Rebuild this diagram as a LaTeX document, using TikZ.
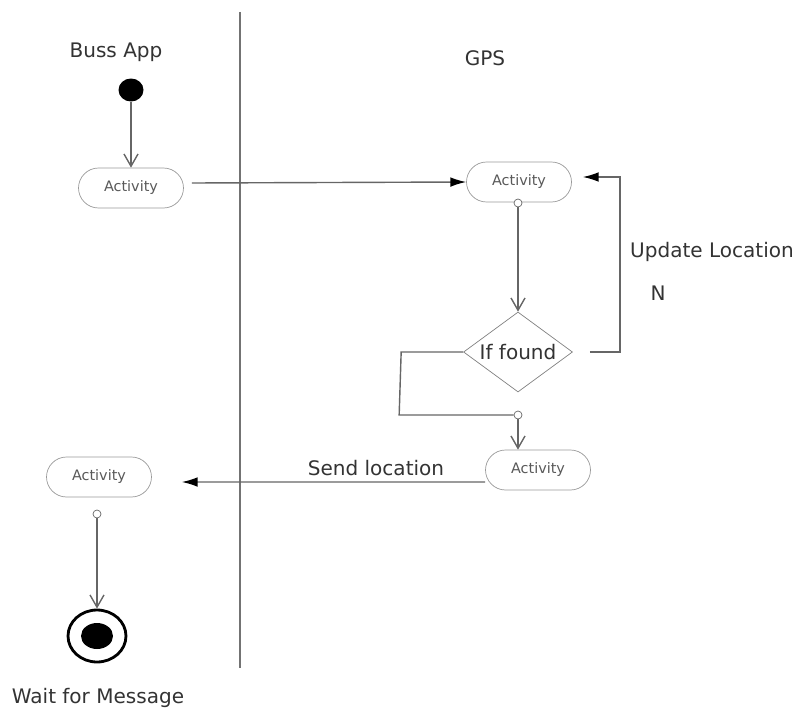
\documentclass[tikz,border=0pt]{standalone}
\usepackage{fontspec}
\setmainfont{DejaVu Sans}
\usepackage{tikz}
\usetikzlibrary{positioning,arrows.meta,shapes.geometric,calc}

\begin{document}
\begin{tikzpicture}[x=0.02cm,y=-0.02cm,
  lbl/.style={font=\fontsize{11.4}{13}\selectfont,text=black!80},
  activity/.style={draw=black!40,rounded corners=0.4cm,minimum width=2.1cm,minimum height=0.8cm,
    inner sep=0pt,font=\fontsize{8.2}{10}\selectfont,text=black!65},
  dot/.style={circle,draw=black!60,fill=white,minimum size=0.16cm,inner sep=0pt},
  flow/.style={draw=black!60,thick},
  openarr/.style={flow,-{Straight Barb[length=7pt,width=8pt]}},
  fillarr/.style={flow,-{Latex[length=9pt,width=5.5pt,black]}},
]
  \useasboundingbox (0,0) rectangle (797,713);
  \draw[black!55,thick] (240,12) -- (240,668);

  \node[lbl] (bussapp) at (116,52) {Buss App};
  \node[lbl] (gps) at (485,58) {GPS};

  % Buss App lane
  \node[ellipse,fill=black,minimum width=0.5cm,minimum height=0.46cm,inner sep=0pt] (start) at (131,90) {};
  \node[activity] (act1) at (131,188) {Activity};
  \draw[openarr] (start) -- (act1);

  % GPS lane
  \node[activity] (act2) at (519,182) {Activity};
  \node[dot] (dot2) at (518,203) {};
  \node[diamond,draw=black!50,aspect=1.36,minimum width=2.18cm,minimum height=1.6cm,inner sep=0pt,lbl] (found) at (518,352) {If found};
  \node[dot] (dot3) at (518,415) {};
  \node[activity] (act3) at (538,470) {Activity};

  \draw[fillarr] ([xshift=0.16cm,yshift=0.1cm]act1.east) -- (act2.west);
  \draw[openarr] (dot2) -- (found.north);
  \draw[fillarr,shorten <=0.34cm,shorten >=0.22cm] (found.east) -- ++(47,0) |- ([yshift=0.1cm]act2.east);
  \node[lbl] (update) at (712,252) {Update Location};
  \node[lbl] (no) at (658,293) {N};
  \draw[flow] (found.west) -- ++(-62,0) -- ++(-2,63) -- (dot3);
  \draw[openarr] (dot3) -- (dot3 |- act3.north);

  % back to Buss App
  \node[activity] (act4) at (99,477) {Activity};
  \draw[fillarr] ([yshift=-0.24cm]act3.west) -- node[lbl,above=0pt,pos=0.36] (send) {Send location} ([xshift=0.6cm,yshift=-0.1cm]act4.east);
  \node[dot] (dot4) at (97,514) {};
  \node[ellipse,draw=black,line width=1.6pt,minimum width=1.16cm,minimum height=1.04cm,inner sep=0pt] (stop) at (97,636) {};
  \fill (stop.center) ellipse [x radius=0.32cm,y radius=0.26cm];
  \draw[openarr] (dot4) -- (stop);
  \node[lbl] (wait) at (98,698) {Wait for Message};
\end{tikzpicture}
\end{document}
